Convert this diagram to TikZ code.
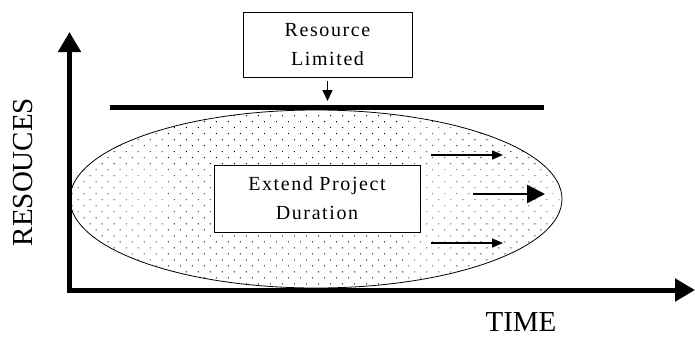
\documentclass[tikz,border=0pt]{standalone}
\usepackage{fontspec}
\setmainfont{Liberation Serif}
\usetikzlibrary{arrows.meta,shapes.geometric,patterns.meta}
\tikzset{
  labelbox/.style={draw=black, line width=0.9pt, fill=white, align=center, inner sep=0pt,
    font=\fontsize{20}{29}\selectfont\addfontfeature{LetterSpace=8}},
  axislabel/.style={font=\fontsize{29}{34}\selectfont, inner sep=0pt},
  axis/.style={line width=5pt, -{Triangle[length=20pt,width=22pt]}},
  thinarrow/.style={line width=1.5pt, -{Triangle[length=11pt,width=9pt]}},
  thickarrow/.style={line width=2.5pt, -{Triangle[length=18pt,width=18pt]}}
}
\begin{document}
\begin{tikzpicture}[x=1pt,y=-1pt]
\useasboundingbox (0,0) rectangle (695,338);
% dotted ellipse
\node[ellipse, draw=black, line width=0.8pt, pattern={Dots[distance=8.5pt,angle=45,radius=0.65pt]}, pattern color=black,
  minimum width=492pt, minimum height=178pt, inner sep=0pt] (ell) at (316,199) {};
% extend box
\node[labelbox, minimum width=206pt, minimum height=67pt] (ext) at (317,198.5) {Extend Project\\Duration};
% resource limited box
\node[labelbox, minimum width=169pt, minimum height=65pt] (rl) at (327.5,44.5) {Resource\\Limited};
% limit line
\coordinate (limL) at (110,107.5);
\coordinate (limR) at (544,107.5);
\draw[line width=5pt] (limL) -- (limR);
\coordinate (limarrow) at (327.5,101);
\draw[line width=1.5pt, -{Triangle[length=11pt,width=10pt]}, shorten <=4pt] (rl.south) -- (limarrow);
% axes
\coordinate (origin) at (67,290);
\coordinate (ytip) at (69.5,32);
\coordinate (xtip) at (695,290);
\coordinate (ybase) at (69.5,292.5);
\draw[axis] (ybase) -- (ytip);
\draw[axis] (origin) -- (xtip);
% arrows inside ellipse
\coordinate (a1s) at (431,155); \coordinate (a1e) at (503,155);
\coordinate (a2s) at (473,194); \coordinate (a2e) at (545,194);
\coordinate (a3s) at (431,243); \coordinate (a3e) at (503,243);
\draw[thinarrow] (a1s) -- (a1e);
\draw[thickarrow] (a2s) -- (a2e);
\draw[thinarrow] (a3s) -- (a3e);
% labels
\node[axislabel, rotate=90] (res) at (23,172) {RESOUCES};
\node[axislabel] (time) at (521,322) {TIME};
\end{tikzpicture}
\end{document}
